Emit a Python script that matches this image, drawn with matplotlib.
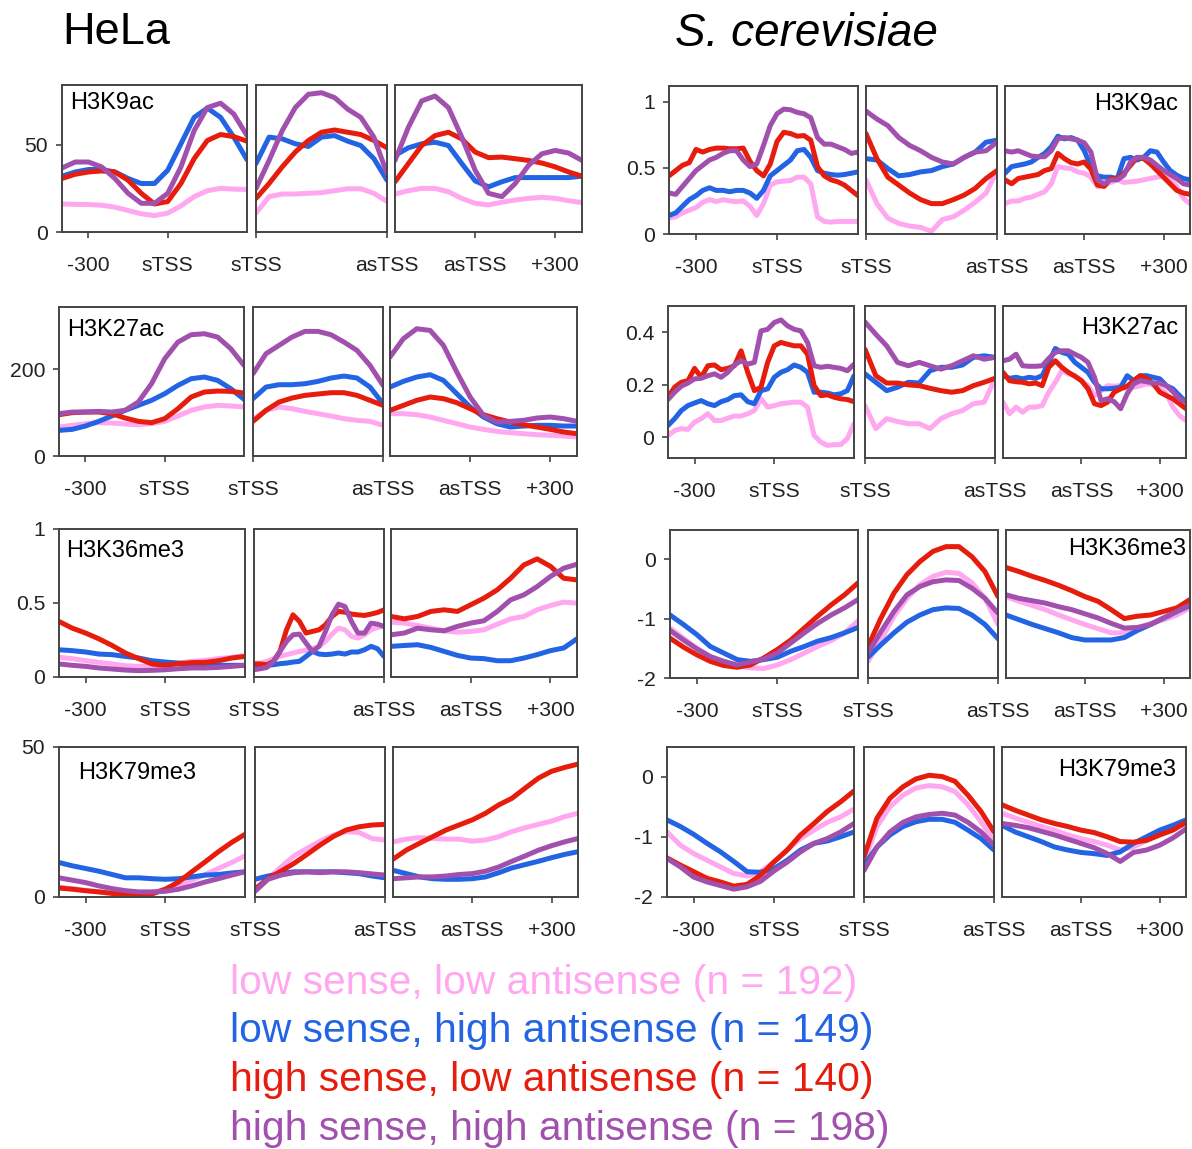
import numpy as np
import matplotlib
matplotlib.use("Agg")
import matplotlib.pyplot as plt

plt.rcParams['font.family'] = ['Liberation Sans', 'DejaVu Sans']

W, H = 1192, 1149

# ---- groups -----------------------------------------------------------
GROUP_LABELS = ["low sense, low antisense (n = 192)",
                "low sense, high antisense (n = 149)",
                "high sense, low antisense (n = 140)",
                "high sense, high antisense (n = 198)"]
GROUP_COLORS = ["#FFA8F0", "#2264E4", "#E61C0C", "#A150AE"]

# ---- x grids (bp relative to sTSS / asTSS, or scaled fraction in between)
UP_50 = np.arange(-400, 301, 50)
DOWN_50 = np.arange(-300, 401, 50)
UP_25 = np.arange(-400, 301, 25)
DOWN_25 = np.arange(-300, 401, 25)
BODY_11 = np.linspace(0, 1, 11)
BODY_13 = np.linspace(0, 1, 13)
BODY_21 = np.linspace(0, 1, 21)

# ---- HeLa profiles: [pink, blue, red, purple] -------------------------
HELA_K9AC_S = [
    [16.0, 15.8, 15.7, 15.3, 14.2, 12.3, 10.4, 9.4, 10.8, 14.9, 20.2, 23.6, 24.9, 24.5, 24.3],
    [31.9, 34.3, 35.7, 35.7, 34.3, 30.6, 27.7, 27.7, 35.3, 50.4, 65.5, 70.8, 65.5, 54.2, 41.3],
    [30.6, 33.0, 34.3, 34.9, 34.3, 29.6, 22.1, 16.0, 17.4, 27.7, 41.9, 52.3, 55.7, 54.5, 51.9],
    [36.6, 40.0, 40.0, 37.2, 30.6, 22.1, 16.4, 16.4, 22.1, 37.2, 57.9, 71.1, 73.6, 67.4, 55.1]]
HELA_K9AC_B = [
    [10.8, 20.2, 21.7, 21.7, 22.1, 22.5, 23.6, 24.7, 24.7, 22.1, 17.4],
    [39.1, 54.2, 53.2, 50.4, 48.9, 54.2, 55.1, 51.9, 49.4, 41.9, 29.6],
    [19.2, 27.7, 37.2, 45.7, 52.3, 57.0, 58.3, 57.0, 55.7, 52.3, 48.1],
    [24.9, 40.9, 57.9, 71.1, 78.7, 79.6, 76.8, 70.2, 65.5, 54.2, 33.4]]
HELA_K9AC_A = [
    [21.7, 23.6, 24.9, 24.9, 23.0, 19.2, 16.4, 15.5, 17.0, 18.3, 19.2, 19.8, 19.2, 17.9, 16.8],
    [43.8, 48.1, 50.4, 51.3, 49.4, 39.1, 29.2, 25.8, 28.7, 31.1, 31.1, 31.1, 31.1, 31.1, 31.9],
    [28.7, 39.1, 49.4, 55.1, 57.0, 53.2, 45.7, 42.5, 42.8, 41.9, 40.9, 39.4, 37.2, 34.3, 31.9],
    [40.9, 59.8, 74.9, 77.7, 71.1, 54.2, 35.3, 22.1, 20.2, 27.7, 38.1, 44.7, 46.6, 45.1, 40.9]]

HELA_K27AC_S = [
    [66.9, 70.8, 74.6, 76.9, 76.2, 73.8, 72.3, 74.6, 80.0, 92.3, 105.4, 113.1, 116.9, 115.4, 113.1],
    [59.2, 61.5, 69.2, 80.0, 92.3, 105.4, 116.9, 128.5, 143.8, 163.0, 178.5, 182.3, 174.6, 155.4, 130.8],
    [95.4, 100.0, 101.5, 101.5, 97.7, 87.7, 80.0, 76.9, 86.2, 109.2, 136.2, 147.7, 150.0, 149.2, 145.4],
    [97.7, 101.5, 101.5, 103.0, 101.5, 105.4, 124.6, 166.9, 224.6, 263.0, 280.0, 282.3, 274.6, 247.7, 209.2]]
HELA_K27AC_B = [
    [84.6, 105.4, 113.1, 109.2, 103.0, 97.7, 92.3, 86.2, 82.3, 80.0, 70.8],
    [132.3, 159.2, 164.6, 164.6, 166.9, 172.3, 180.0, 184.6, 180.0, 159.2, 120.8],
    [80.0, 105.4, 124.6, 133.8, 140.0, 143.1, 146.2, 146.2, 140.0, 128.5, 116.9],
    [190.0, 236.2, 255.4, 274.6, 287.7, 287.7, 280.0, 263.0, 243.8, 209.2, 163.0]]
HELA_K27AC_A = [
    [97.7, 97.7, 95.4, 90.0, 82.3, 74.6, 66.9, 61.5, 56.9, 53.8, 51.5, 49.2, 47.7, 46.2, 43.8],
    [159.2, 172.3, 182.3, 187.7, 174.6, 143.8, 113.1, 90.0, 74.6, 66.9, 69.2, 70.8, 70.8, 69.2, 69.2],
    [105.4, 116.9, 128.5, 136.2, 132.3, 123.1, 109.2, 95.4, 86.2, 78.5, 72.3, 66.9, 61.5, 55.4, 51.5],
    [228.5, 270.8, 293.8, 290.0, 255.4, 193.8, 136.2, 93.8, 78.5, 80.0, 82.3, 87.7, 90.0, 86.2, 80.0]]

HELA_K36ME3_S = [
    [0.133, 0.124, 0.110, 0.099, 0.088, 0.076, 0.072, 0.072, 0.079, 0.094, 0.106, 0.112, 0.124, 0.133, 0.144],
    [0.184, 0.178, 0.169, 0.155, 0.151, 0.139, 0.128, 0.110, 0.101, 0.094, 0.088, 0.083, 0.079, 0.079, 0.079],
    [0.375, 0.330, 0.297, 0.258, 0.213, 0.162, 0.124, 0.088, 0.079, 0.090, 0.097, 0.099, 0.110, 0.128, 0.139],
    [0.088, 0.079, 0.072, 0.061, 0.054, 0.047, 0.043, 0.045, 0.049, 0.056, 0.061, 0.061, 0.065, 0.072, 0.079]]
HELA_K36ME3_B = [
    [0.094, 0.094, 0.106, 0.124, 0.139, 0.151, 0.162, 0.173, 0.180, 0.191, 0.207, 0.240, 0.290, 0.330,
     0.319, 0.274, 0.263, 0.285, 0.319, 0.335, 0.342],
    [0.072, 0.072, 0.079, 0.083, 0.090, 0.094, 0.101, 0.106, 0.139, 0.173, 0.155, 0.151, 0.155, 0.162,
     0.155, 0.169, 0.169, 0.184, 0.207, 0.191, 0.139],
    [0.088, 0.088, 0.083, 0.106, 0.173, 0.319, 0.420, 0.375, 0.297, 0.308, 0.319, 0.353, 0.409, 0.443,
     0.438, 0.425, 0.420, 0.416, 0.425, 0.436, 0.454],
    [0.049, 0.056, 0.065, 0.106, 0.173, 0.240, 0.285, 0.290, 0.229, 0.173, 0.207, 0.308, 0.420, 0.492,
     0.476, 0.375, 0.297, 0.297, 0.364, 0.357, 0.342]]
HELA_K36ME3_A = [
    [0.371, 0.364, 0.348, 0.330, 0.312, 0.303, 0.308, 0.319, 0.357, 0.393, 0.409, 0.454, 0.483, 0.506, 0.499],
    [0.207, 0.213, 0.218, 0.200, 0.173, 0.146, 0.128, 0.124, 0.110, 0.110, 0.128, 0.151, 0.178, 0.196, 0.258],
    [0.409, 0.393, 0.409, 0.443, 0.454, 0.443, 0.488, 0.533, 0.589, 0.667, 0.757, 0.798, 0.748, 0.667, 0.656],
    [0.285, 0.297, 0.330, 0.319, 0.312, 0.342, 0.364, 0.380, 0.443, 0.521, 0.555, 0.611, 0.679, 0.735, 0.762]]

HELA_K79ME3_S = [
    [3.3, 2.8, 2.2, 1.7, 1.2, 1.0, 1.0, 1.5, 2.6, 3.9, 5.6, 7.5, 9.5, 11.5, 13.7],
    [11.5, 10.4, 9.5, 8.6, 7.5, 6.4, 6.4, 6.1, 5.9, 6.1, 6.7, 7.3, 7.5, 8.0, 8.4],
    [3.0, 2.6, 2.1, 1.7, 1.2, 0.8, 0.6, 1.0, 2.6, 5.0, 8.4, 11.7, 15.1, 18.2, 20.9],
    [6.4, 5.6, 4.8, 3.7, 2.8, 2.1, 1.7, 1.7, 1.9, 2.6, 3.7, 5.0, 6.1, 7.3, 8.4]]
HELA_K79ME3_B = [
    [2.8, 6.1, 10.0, 13.7, 16.2, 18.6, 20.6, 21.8, 21.5, 19.5, 19.0],
    [5.9, 7.0, 7.8, 8.4, 8.4, 8.4, 8.4, 8.1, 7.8, 7.0, 6.4],
    [2.6, 6.1, 8.6, 11.2, 14.2, 17.3, 20.1, 22.3, 23.4, 24.0, 24.2],
    [1.9, 5.9, 7.3, 8.1, 8.4, 8.1, 8.4, 8.4, 8.1, 7.7, 7.3]]
HELA_K79ME3_A = [
    [18.4, 19.3, 19.8, 19.5, 19.3, 19.3, 18.6, 19.0, 20.1, 21.8, 23.1, 24.2, 25.3, 26.8, 27.9],
    [8.9, 7.8, 6.7, 6.1, 5.9, 5.9, 6.1, 6.7, 8.1, 9.7, 10.8, 11.9, 13.1, 14.2, 15.1],
    [12.6, 15.6, 17.9, 20.1, 22.3, 24.0, 25.7, 27.9, 30.7, 32.9, 36.3, 39.6, 41.9, 43.2, 44.3],
    [6.1, 6.4, 6.7, 6.7, 7.0, 7.5, 7.8, 8.6, 10.0, 11.9, 13.7, 15.6, 17.1, 18.4, 19.5]]

# ---- S. cerevisiae profiles: [pink, blue, red, purple] ----------------
SC_K9AC_S = [
    [0.12, 0.13, 0.16, 0.18, 0.20, 0.24, 0.26, 0.245, 0.26, 0.25, 0.245, 0.25, 0.21, 0.14, 0.23,
     0.37, 0.395, 0.40, 0.405, 0.43, 0.43, 0.38, 0.13, 0.095, 0.09, 0.095, 0.095, 0.095, 0.095],
    [0.14, 0.16, 0.21, 0.26, 0.29, 0.33, 0.35, 0.33, 0.33, 0.32, 0.33, 0.33, 0.31, 0.27, 0.33,
     0.44, 0.48, 0.52, 0.56, 0.63, 0.64, 0.58, 0.48, 0.46, 0.45, 0.445, 0.45, 0.46, 0.47],
    [0.44, 0.48, 0.52, 0.54, 0.64, 0.62, 0.64, 0.65, 0.65, 0.645, 0.645, 0.65, 0.55, 0.48, 0.44,
     0.53, 0.70, 0.77, 0.76, 0.74, 0.745, 0.71, 0.51, 0.44, 0.41, 0.395, 0.37, 0.33, 0.29],
    [0.31, 0.30, 0.36, 0.42, 0.48, 0.52, 0.56, 0.58, 0.61, 0.63, 0.63, 0.56, 0.51, 0.53, 0.67,
     0.82, 0.91, 0.945, 0.94, 0.92, 0.91, 0.88, 0.73, 0.68, 0.68, 0.66, 0.64, 0.61, 0.62]]
SC_K9AC_B = [
    [0.41, 0.23, 0.12, 0.08, 0.06, 0.05, 0.02, 0.11, 0.13, 0.18, 0.24, 0.31, 0.48],
    [0.57, 0.56, 0.495, 0.44, 0.45, 0.47, 0.48, 0.51, 0.53, 0.58, 0.62, 0.695, 0.71],
    [0.76, 0.57, 0.43, 0.37, 0.31, 0.26, 0.23, 0.23, 0.26, 0.295, 0.345, 0.42, 0.48],
    [0.93, 0.87, 0.82, 0.73, 0.67, 0.63, 0.58, 0.545, 0.53, 0.58, 0.62, 0.63, 0.695]]
SC_K9AC_A = [
    [0.23, 0.25, 0.25, 0.27, 0.28, 0.30, 0.32, 0.38, 0.51, 0.50, 0.495, 0.47, 0.46, 0.43, 0.36,
     0.37, 0.39, 0.41, 0.39, 0.395, 0.40, 0.41, 0.42, 0.43, 0.44, 0.42, 0.36, 0.27, 0.23],
    [0.46, 0.51, 0.52, 0.53, 0.545, 0.58, 0.61, 0.66, 0.74, 0.72, 0.73, 0.71, 0.63, 0.51, 0.44,
     0.43, 0.43, 0.42, 0.57, 0.58, 0.56, 0.58, 0.63, 0.62, 0.545, 0.48, 0.445, 0.42, 0.41],
    [0.41, 0.38, 0.42, 0.43, 0.44, 0.45, 0.48, 0.495, 0.61, 0.57, 0.54, 0.53, 0.545, 0.49, 0.37,
     0.36, 0.42, 0.42, 0.46, 0.52, 0.58, 0.57, 0.53, 0.48, 0.43, 0.38, 0.33, 0.31, 0.30],
    [0.63, 0.62, 0.63, 0.61, 0.59, 0.585, 0.585, 0.63, 0.72, 0.73, 0.72, 0.71, 0.69, 0.62, 0.41,
     0.38, 0.41, 0.41, 0.445, 0.545, 0.58, 0.58, 0.56, 0.52, 0.48, 0.45, 0.42, 0.38, 0.37]]

SC_K27AC_S = [
    [0.006, 0.025, 0.032, 0.029, 0.057, 0.070, 0.089, 0.063, 0.063, 0.072, 0.080, 0.080, 0.089, 0.101, 0.146,
     0.114, 0.120, 0.127, 0.130, 0.133, 0.133, 0.114, 0.006, -0.019, -0.032, -0.029, -0.029, -0.006, 0.051],
    [0.044, 0.070, 0.101, 0.120, 0.130, 0.139, 0.127, 0.120, 0.135, 0.143, 0.158, 0.161, 0.135, 0.127, 0.177,
     0.184, 0.228, 0.247, 0.257, 0.275, 0.266, 0.247, 0.171, 0.171, 0.168, 0.161, 0.165, 0.177, 0.234],
    [0.152, 0.190, 0.209, 0.215, 0.262, 0.228, 0.272, 0.275, 0.257, 0.262, 0.272, 0.329, 0.247, 0.177, 0.190,
     0.285, 0.348, 0.361, 0.354, 0.348, 0.348, 0.316, 0.196, 0.158, 0.161, 0.152, 0.146, 0.143, 0.135],
    [0.143, 0.171, 0.194, 0.206, 0.222, 0.224, 0.234, 0.241, 0.228, 0.247, 0.275, 0.291, 0.278, 0.285, 0.405,
     0.411, 0.437, 0.447, 0.424, 0.411, 0.405, 0.361, 0.272, 0.266, 0.270, 0.266, 0.262, 0.253, 0.278]]
SC_K27AC_B = [
    [0.120, 0.032, 0.070, 0.059, 0.051, 0.051, 0.032, 0.070, 0.089, 0.101, 0.127, 0.133, 0.222],
    [0.241, 0.209, 0.177, 0.190, 0.209, 0.206, 0.253, 0.266, 0.266, 0.275, 0.304, 0.310, 0.304],
    [0.335, 0.234, 0.206, 0.206, 0.199, 0.196, 0.186, 0.177, 0.171, 0.177, 0.196, 0.209, 0.224],
    [0.439, 0.392, 0.348, 0.285, 0.272, 0.285, 0.272, 0.259, 0.272, 0.291, 0.310, 0.297, 0.304]]
SC_K27AC_A = [
    [0.133, 0.089, 0.114, 0.095, 0.114, 0.114, 0.120, 0.171, 0.209, 0.253, 0.241, 0.234, 0.215, 0.196, 0.158,
     0.177, 0.196, 0.194, 0.196, 0.184, 0.190, 0.196, 0.203, 0.199, 0.190, 0.165, 0.114, 0.082, 0.063],
    [0.234, 0.224, 0.228, 0.222, 0.228, 0.224, 0.234, 0.285, 0.338, 0.323, 0.316, 0.285, 0.266, 0.247, 0.209,
     0.184, 0.184, 0.186, 0.190, 0.234, 0.215, 0.234, 0.234, 0.228, 0.222, 0.196, 0.184, 0.158, 0.133],
    [0.247, 0.215, 0.211, 0.209, 0.203, 0.206, 0.196, 0.266, 0.291, 0.266, 0.247, 0.232, 0.215, 0.184, 0.127,
     0.120, 0.133, 0.171, 0.184, 0.194, 0.215, 0.234, 0.224, 0.203, 0.171, 0.158, 0.146, 0.127, 0.108],
    [0.291, 0.297, 0.316, 0.272, 0.270, 0.270, 0.272, 0.300, 0.323, 0.329, 0.329, 0.316, 0.304, 0.285, 0.228,
     0.139, 0.146, 0.135, 0.108, 0.165, 0.203, 0.215, 0.211, 0.206, 0.206, 0.196, 0.173, 0.146, 0.133]]

SC_K36ME3_S = [
    [-1.16, -1.33, -1.50, -1.64, -1.72, -1.79, -1.83, -1.84, -1.78, -1.69, -1.58, -1.47, -1.37, -1.24, -1.04],
    [-0.94, -1.10, -1.27, -1.47, -1.58, -1.69, -1.72, -1.69, -1.65, -1.55, -1.47, -1.38, -1.32, -1.24, -1.15],
    [-1.33, -1.48, -1.61, -1.72, -1.79, -1.82, -1.78, -1.66, -1.52, -1.36, -1.16, -0.96, -0.77, -0.60, -0.40],
    [-1.20, -1.36, -1.51, -1.64, -1.72, -1.78, -1.73, -1.68, -1.58, -1.41, -1.24, -1.08, -0.94, -0.82, -0.68]]
SC_K36ME3_B = [
    [-1.72, -1.36, -0.96, -0.66, -0.43, -0.29, -0.22, -0.24, -0.40, -0.66, -1.10],
    [-1.65, -1.44, -1.24, -1.06, -0.94, -0.85, -0.82, -0.83, -0.94, -1.10, -1.34],
    [-1.47, -0.99, -0.57, -0.26, -0.04, 0.13, 0.21, 0.21, 0.04, -0.21, -0.63],
    [-1.58, -1.22, -0.88, -0.60, -0.46, -0.38, -0.35, -0.36, -0.49, -0.66, -0.91]]
SC_K36ME3_A = [
    [-0.63, -0.71, -0.78, -0.85, -0.94, -1.02, -1.10, -1.17, -1.24, -1.24, -1.16, -1.08, -1.02, -0.94, -0.82],
    [-0.94, -1.02, -1.10, -1.17, -1.24, -1.32, -1.36, -1.36, -1.36, -1.32, -1.20, -1.10, -0.99, -0.88, -0.78],
    [-0.14, -0.21, -0.29, -0.36, -0.44, -0.53, -0.63, -0.71, -0.85, -1.00, -0.96, -0.94, -0.88, -0.82, -0.68],
    [-0.60, -0.66, -0.70, -0.74, -0.80, -0.85, -0.92, -0.99, -1.08, -1.16, -1.15, -1.10, -0.99, -0.88, -0.77]]

SC_K79ME3_S = [
    [-0.92, -1.14, -1.28, -1.39, -1.50, -1.61, -1.65, -1.58, -1.42, -1.22, -1.03, -0.89, -0.76, -0.67, -0.54],
    [-0.72, -0.83, -0.96, -1.11, -1.25, -1.41, -1.58, -1.59, -1.53, -1.39, -1.22, -1.11, -1.07, -1.00, -0.92],
    [-1.35, -1.47, -1.58, -1.69, -1.75, -1.82, -1.79, -1.64, -1.42, -1.22, -0.97, -0.78, -0.58, -0.42, -0.24],
    [-1.36, -1.50, -1.67, -1.75, -1.81, -1.87, -1.83, -1.74, -1.57, -1.42, -1.25, -1.11, -1.03, -0.92, -0.78]]
SC_K79ME3_B = [
    [-1.42, -0.83, -0.50, -0.31, -0.19, -0.15, -0.17, -0.25, -0.47, -0.75, -1.08],
    [-1.47, -1.17, -0.97, -0.83, -0.75, -0.71, -0.71, -0.76, -0.89, -1.03, -1.22],
    [-1.33, -0.69, -0.36, -0.17, -0.04, 0.02, 0.00, -0.08, -0.31, -0.58, -0.92],
    [-1.56, -1.17, -0.92, -0.76, -0.67, -0.63, -0.61, -0.64, -0.76, -0.92, -1.14]]
SC_K79ME3_A = [
    [-0.61, -0.69, -0.76, -0.83, -0.89, -0.97, -1.03, -1.08, -1.14, -1.22, -1.17, -1.06, -0.94, -0.86, -0.79],
    [-0.81, -0.92, -1.00, -1.08, -1.17, -1.22, -1.26, -1.28, -1.31, -1.25, -1.11, -1.00, -0.89, -0.81, -0.72],
    [-0.47, -0.56, -0.64, -0.72, -0.78, -0.83, -0.89, -0.93, -1.00, -1.08, -1.09, -1.06, -0.97, -0.89, -0.76],
    [-0.78, -0.81, -0.85, -0.91, -0.97, -1.04, -1.11, -1.18, -1.28, -1.41, -1.26, -1.22, -1.14, -1.02, -0.87]]

# ---- axis settings per mark ------------------------------------------
HELA_YLIMS = [(0, 84), (0, 344), (0, 1.0), (0, 50)]
HELA_YTICKS = [[0, 50], [0, 200], [0, 0.5, 1], [0, 50]]
HELA_YTICKLABELS = [["0", "50"], ["0", "200"], ["0", "0.5", "1"], ["0", "50"]]
SC_YLIMS = [(0, 1.12), (-0.08, 0.50), (-2, 0.49), (-2, 0.49)]
SC_YTICKS = [[0, 0.5, 1], [0, 0.2, 0.4], [-2, -1, 0], [-2, -1, 0]]
SC_YTICKLABELS = [["0", "0.5", "1"], ["0", "0.2", "0.4"], ["-2", "-1", "0"], ["-2", "-1", "0"]]
MARKS = ["H3K9ac", "H3K27ac", "H3K36me3", "H3K79me3"]

HELA_ROWS = [
    ((UP_50, HELA_K9AC_S), (BODY_11, HELA_K9AC_B), (DOWN_50, HELA_K9AC_A)),
    ((UP_50, HELA_K27AC_S), (BODY_11, HELA_K27AC_B), (DOWN_50, HELA_K27AC_A)),
    ((UP_50, HELA_K36ME3_S), (BODY_21, HELA_K36ME3_B), (DOWN_50, HELA_K36ME3_A)),
    ((UP_50, HELA_K79ME3_S), (BODY_11, HELA_K79ME3_B), (DOWN_50, HELA_K79ME3_A))]
SC_ROWS = [
    ((UP_25, SC_K9AC_S), (BODY_13, SC_K9AC_B), (DOWN_25, SC_K9AC_A)),
    ((UP_25, SC_K27AC_S), (BODY_13, SC_K27AC_B), (DOWN_25, SC_K27AC_A)),
    ((UP_50, SC_K36ME3_S), (BODY_11, SC_K36ME3_B), (DOWN_50, SC_K36ME3_A)),
    ((UP_50, SC_K79ME3_S), (BODY_11, SC_K79ME3_B), (DOWN_50, SC_K79ME3_A))]

# ---- panel geometry in pixels: (x0, x1) per panel, (top, bottom) per row
HELA_X = [[(62, 247), (256, 387), (395, 582)],
          [(59, 244), (253, 383), (390, 577)],
          [(59, 245), (254, 384), (391, 577)],
          [(59, 245), (255, 385), (393, 578)]]
HELA_Y = [(85, 232), (307, 456), (529, 677), (747, 897)]
SC_X = [[(669, 858), (866, 997), (1005, 1190)],
        [(668, 854), (865, 995), (1003, 1186)],
        [(670, 858), (868, 998), (1006, 1190)],
        [(667, 854), (864, 994), (1002, 1186)]]
SC_Y = [(86, 234), (306, 458), (530, 678), (747, 897)]
HELA_TITLE_POS = [(70, 103), (67, 330), (66, 551), (78, 773)]
SC_TITLE_POS = [(1178, 104), (1178, 328), (1186, 549), (1176, 770)]

XLIMS = [(-400, 300), (0, 1), (-300, 400)]
XTICKS = [[-300, 0], [0, 1], [0, 300]]
XTICKLABELS = [["-300", "sTSS"], ["sTSS", "asTSS"], ["asTSS", "+300"]]

TEXT_C = "#222222"
SPINE_C = "#444444"
TICK_FS = 15.2
LW = 3.6


def px_rect(x0, x1, top, bottom):
    return [x0 / W, 1 - bottom / H, (x1 - x0) / W, (bottom - top) / H]


def draw_row(fig, xs_px, ys_px, panels, ylim, yticks, yticklabels, mark, title_pos, title_ha):
    top, bottom = ys_px
    for k, ((x0, x1), (xgrid, series)) in enumerate(zip(xs_px, panels)):
        ax = fig.add_axes(px_rect(x0, x1, top, bottom))
        for vals, col in zip(series, GROUP_COLORS):
            ax.plot(xgrid, vals, color=col, lw=LW, solid_capstyle='round',
                    solid_joinstyle='round')
        ax.set_xlim(*XLIMS[k])
        ax.set_ylim(*ylim)
        ax.set_xticks(XTICKS[k])
        ax.set_xticklabels(XTICKLABELS[k])
        for s in ax.spines.values():
            s.set_color(SPINE_C)
            s.set_linewidth(1.4)
        ax.tick_params(axis='x', direction='out', length=4, width=1.2, color=SPINE_C,
                       pad=13, labelsize=TICK_FS, labelcolor=TEXT_C)
        if k == 0:
            ax.set_yticks(yticks)
            ax.set_yticklabels(yticklabels)
            ax.tick_params(axis='y', direction='out', length=4, width=1.2, color=SPINE_C,
                           pad=6, labelsize=TICK_FS, labelcolor=TEXT_C)
        else:
            ax.set_yticks([])
    tx, ty = title_pos
    fig.text(tx / W, 1 - ty / H, mark, ha=title_ha, va='center', fontsize=17, color='black')


fig = plt.figure(figsize=(W / 100, H / 100), dpi=100)

for r in range(4):
    draw_row(fig, HELA_X[r], HELA_Y[r], HELA_ROWS[r], HELA_YLIMS[r], HELA_YTICKS[r],
             HELA_YTICKLABELS[r], MARKS[r], HELA_TITLE_POS[r], 'left')
    draw_row(fig, SC_X[r], SC_Y[r], SC_ROWS[r], SC_YLIMS[r], SC_YTICKS[r],
             SC_YTICKLABELS[r], MARKS[r], SC_TITLE_POS[r], 'right')

fig.text(62 / W, 1 - 32 / H, "HeLa", ha='left', va='center', fontsize=32.5, color='black')
fig.text(675 / W, 1 - 34 / H, "S. cerevisiae", ha='left', va='center', fontsize=33,
         style='italic', color='black')

for i, (lab, col) in enumerate(zip(GROUP_LABELS, GROUP_COLORS)):
    fig.text(230 / W, 1 - (983 + 48.5 * i) / H, lab, ha='left', va='center',
             fontsize=29.3, color=col)

fig.savefig("out.png", dpi=100)
